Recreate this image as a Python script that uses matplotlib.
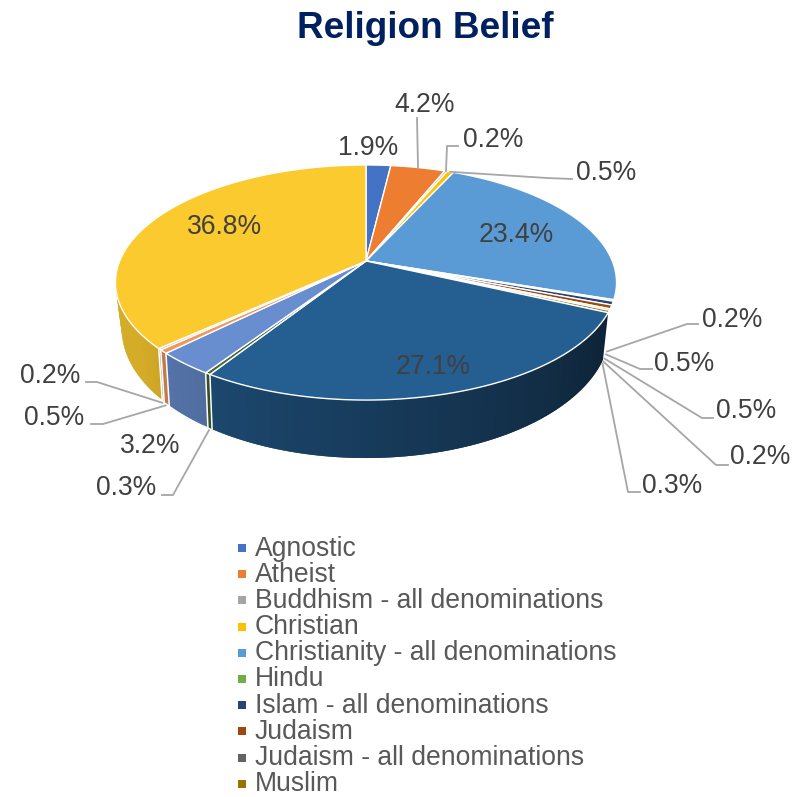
import numpy as np
import matplotlib
matplotlib.use('Agg')
import matplotlib.pyplot as plt
from matplotlib.collections import PolyCollection

plt.rcParams['font.family'] = ['Liberation Sans', 'DejaVu Sans']

# Share of each belief, clockwise from 12 o'clock (percent)
values = [1.9, 4.2, 0.2, 0.5, 23.4, 0.2, 0.5, 0.5, 0.2, 0.3, 27.1, 0.3, 3.2, 0.5, 0.2, 36.8]
legend_names = ['Agnostic', 'Atheist', 'Buddhism - all denominations', 'Christian',
                'Christianity - all denominations', 'Hindu', 'Islam - all denominations',
                'Judaism', 'Judaism - all denominations', 'Muslim']
colors = ['#4472C4', '#ED7D31', '#A5A5A5', '#FFC000', '#5B9BD5', '#70AD47', '#264478', '#9E480E',
          '#636363', '#997300', '#255E91', '#43682B', '#698ED0', '#F1975A', '#B7B7B7', '#FBCA2F']

# Perspective of the top and bottom faces: centre x/y, half width, half depth, foreshortening
TOP = (366, 261, 246.3, 113.6, 0.183)
BOTTOM = (366, 303, 239.5, 124.5, 0.197)
FIRST_WALL = 10  # slices before this one show no side wall


def project(theta, plane):
    """Screen position of a rim point, theta in degrees clockwise from the back."""
    cx, cy, b, a, k = plane
    t = np.radians(theta)
    w = 1 + k * np.cos(t)
    return cx + b * np.sin(t) / w, cy - a * np.cos(t) / w


def wall_shade(theta):
    # Light falls off towards the right of the front wall
    return np.interp(theta, [115, 212, 235, 270], [0.37, 0.76, 0.85, 0.85])


fig = plt.figure(figsize=(7.98, 7.97), dpi=100)
ax = fig.add_axes([0, 0, 1, 1])
ax.set_xlim(0, 798)
ax.set_ylim(797, 0)
ax.axis('off')

edges = np.concatenate([[0], np.cumsum(values)]) * 3.6
edges[-1] = 360

# Side walls, drawn left to right as overlapping strips so no seams show
for i in range(FIRST_WALL, len(values)):
    start, end = edges[i], min(edges[i + 1], 285)
    steps = np.append(np.arange(start, end, 1.0), end)
    base = np.array(matplotlib.colors.to_rgb(colors[i]))
    for t0, t1 in zip(steps[:-1], steps[1:]):
        t2 = min(t1 + 1.0, end)
        quad = [project(t0, TOP), project(t2, TOP), project(t2, BOTTOM), project(t0, BOTTOM)]
        shade = base * wall_shade((t0 + t1) / 2)
        ax.add_collection(PolyCollection([quad], facecolors=[shade], edgecolors='none', zorder=2))
    if i > FIRST_WALL:
        x0, y0 = project(start, TOP)
        x1, y1 = project(start, BOTTOM)
        ax.plot([x0, x1], [y0, y1], color='white', lw=1.1, zorder=3)

# Top faces
for i, color in enumerate(colors):
    theta = np.linspace(edges[i], edges[i + 1], max(int(edges[i + 1] - edges[i]) * 2, 2))
    xs, ys = project(theta, TOP)
    ax.fill(np.r_[TOP[0], xs], np.r_[TOP[1], ys], facecolor=color, edgecolor='white', lw=1.0,
            joinstyle='round', zorder=4)

# Percent labels on the slices or beside them, with leader lines for the small ones
mids = (edges[:-1] + edges[1:]) / 2
label_xy = [(368, 148), (425, 105), (493, 140), (606, 173), (516, 235), (732, 320), (684, 364),
            (746, 411), (760, 457), (672, 486), (433, 367), (126, 488), (150, 446), (54, 418),
            (50, 376), (224, 227)]
leader_bend = {1: [(417, 118)], 2: [(458, 146), (447, 146)], 3: [(572, 179), (547, 178)],
               5: [(698, 324), (687, 324)], 6: [(652, 369), (640, 369)], 7: [(713, 418), (702, 418)],
               8: [(728, 465), (716, 465)], 9: [(640, 492), (628, 492)], 11: [(162, 495), (173, 495)],
               13: [(91, 424), (103, 424)], 14: [(86, 382), (97, 382)]}

for i, (v, (x, y)) in enumerate(zip(values, label_xy)):
    ax.text(x, y, f'{v:.1f}%', fontsize=19.1, color='#404040', ha='center', va='center', zorder=6)
    if i in leader_bend:
        if i < 5:
            end = project(mids[i], TOP)
        else:
            ex, ey = project(mids[i], BOTTOM)
            end = (ex - 1, ey + (5 if i < FIRST_WALL else 2))
        pts = leader_bend[i] + [end]
        ax.plot([p[0] for p in pts], [p[1] for p in pts], color='#A6A6A6', lw=1.3, zorder=5)

ax.text(425, 28, 'Religion Belief', fontsize=26.6, fontweight='bold', color='#002060',
        ha='center', va='center')

# Legend, only the first ten names fit
for i, name in enumerate(legend_names):
    y = 548 + i * 26.2
    ax.plot(242, y, marker='s', ms=5.8, mew=0, color=colors[i], clip_on=False)
    ax.text(255, y + 0.5, name, fontsize=19.1, color='#595959', ha='left', va='center')

fig.savefig('out.png', dpi=100, facecolor='white')
